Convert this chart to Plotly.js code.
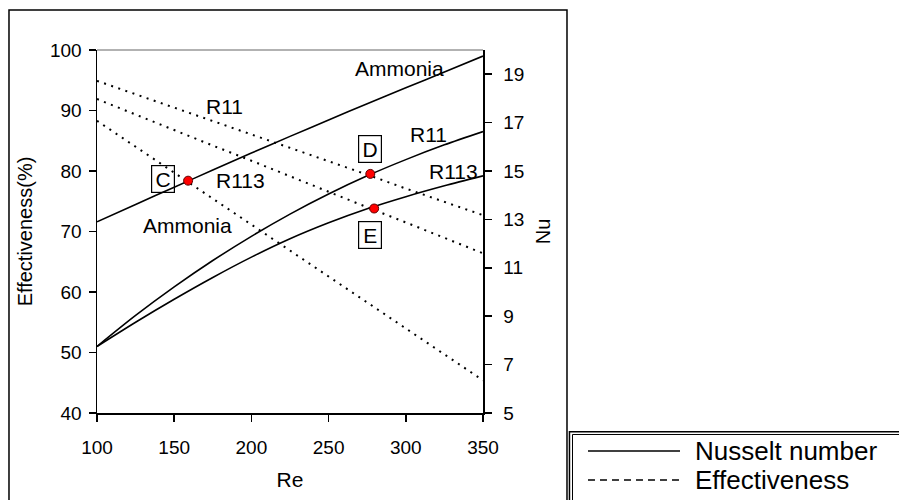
<!DOCTYPE html>
<html>
<head>
<meta charset="utf-8">
<script src="https://cdn.plot.ly/plotly-3.0.1.min.js"></script>
<style>html,body{margin:0;padding:0;background:#fff;}#chart{width:899px;height:500px;}</style>
</head>
<body>
<div id="chart"></div>
<script>
// Reynolds number samples
const re = [100, 125, 150, 175, 200, 225, 250, 275, 300, 325, 350];
// Nusselt number (right axis)
const nuAmmonia = [12.9, 13.62, 14.33, 15.04, 15.74, 16.43, 17.11, 17.78, 18.44, 19.09, 19.75];
const nuR11 = [7.75, 9.03, 10.21, 11.30, 12.30, 13.22, 14.05, 14.80, 15.47, 16.08, 16.63];
const nuR113 = [7.75, 8.75, 9.70, 10.60, 11.44, 12.20, 12.86, 13.44, 13.94, 14.39, 14.80];
// Effectiveness % (left axis)
const effR11 = [94.9, 92.7, 90.5, 88.2, 86.0, 83.8, 81.6, 79.4, 77.1, 74.9, 72.7];
const effR113 = [91.9, 89.3, 86.8, 84.2, 81.7, 79.1, 76.6, 74.0, 71.5, 68.9, 66.4];
const effAmmonia = [88.3, 84.0, 79.7, 75.4, 71.2, 66.9, 62.6, 58.3, 54.0, 49.7, 45.4];
// Operating points C, D, E (on Nu curves)
const pointNames = ["C", "D", "E"];
const pointRe = [159, 277, 279.5];
const pointNu = [14.6, 14.88, 13.45];
// Point label boxes (Re, effectiveness)
const boxRe = [142.7, 277.1, 277.1];
const boxEff = [78.7, 83.6, 69.4];
// Curve labels
const labelText = ["Ammonia", "R11", "R113", "Ammonia", "R11", "R113"];
const labelRe = [295.6, 182.3, 192.9, 158.3, 314.7, 330.6];
const labelEff = [97.0, 90.7, 78.5, 71.0, 86.0, 79.9];
// Axis ticks and titles
const xTicks = [100, 150, 200, 250, 300, 350];
const yTicks = [40, 50, 60, 70, 80, 90, 100];
const y2Ticks = [5, 7, 9, 11, 13, 15, 17, 19];
const legendLabels = ["Nusselt number", "Effectiveness"];

const FONT = "Arial, 'Liberation Sans', sans-serif";

const nuLine = {color: "black", width: 1.6, shape: "spline", smoothing: 0.8};
const effLine = {color: "black", width: 2, dash: "2px,5.5px"};

const traces = [
  {x: re, y: nuAmmonia, yaxis: "y2", mode: "lines", line: nuLine, name: "Ammonia Nu"},
  {x: re, y: nuR11, yaxis: "y2", mode: "lines", line: nuLine, name: "R11 Nu"},
  {x: re, y: nuR113, yaxis: "y2", mode: "lines", line: nuLine, name: "R113 Nu"},
  {x: re, y: effR11, yaxis: "y", mode: "lines", line: effLine, name: "R11 eff"},
  {x: re, y: effR113, yaxis: "y", mode: "lines", line: effLine, name: "R113 eff"},
  {x: re, y: effAmmonia, yaxis: "y", mode: "lines", line: effLine, name: "Ammonia eff"},
  {x: pointRe, y: pointNu, yaxis: "y2", mode: "markers", name: "points",
   marker: {color: "#ff0000", size: 9, line: {color: "#600000", width: 1}}}
];

const annotations = [];
labelText.forEach((t, i) => annotations.push({
  x: labelRe[i], y: labelEff[i], xref: "x", yref: "y", text: t, showarrow: false,
  font: {family: FONT, size: 21, color: "black"}, xanchor: "center", yanchor: "middle"
}));
pointNames.forEach((t, i) => annotations.push({
  x: boxRe[i], y: boxEff[i], xref: "x", yref: "y", text: t, showarrow: false,
  font: {family: FONT, size: 21, color: "black"}, xanchor: "center", yanchor: "middle",
  bordercolor: "black", borderwidth: 1.2, borderpad: 0, width: 22, height: 26, bgcolor: "rgba(255,255,255,0)"
}));
// legend texts
const legY = [-0.1047, -0.1846];
legendLabels.forEach((t, i) => annotations.push({
  x: 1.544, y: legY[i], xref: "paper", yref: "paper", text: t, showarrow: false,
  font: {family: FONT, size: 26, color: "black"}, xanchor: "left", yanchor: "middle"
}));

const shapes = [
  // top frame of plot area
  {type: "line", xref: "paper", yref: "paper", x0: 0, x1: 1, y0: 1, y1: 1, line: {color: "#999999", width: 1.5}},
  // outer chart border
  {type: "rect", xref: "paper", yref: "paper", x0: -0.228, x1: 1.2176, y0: -0.35, y1: 1.11, line: {color: "black", width: 1.5}},
  // legend box (double border)
  {type: "rect", xref: "paper", yref: "paper", x0: 1.224, x1: 2.5, y0: -0.35, y1: -0.0515, line: {color: "black", width: 1.5}},
  {type: "rect", xref: "paper", yref: "paper", x0: 1.2319, x1: 2.5, y0: -0.35, y1: -0.0592, line: {color: "black", width: 1}},
  // legend samples
  {type: "line", xref: "paper", yref: "paper", x0: 1.272, x1: 1.5104, y0: legY[0], y1: legY[0], line: {color: "black", width: 1.5}},
  {type: "line", xref: "paper", yref: "paper", x0: 1.272, x1: 1.5104, y0: legY[1], y1: legY[1], line: {color: "black", width: 1.3, dash: "7px,5px"}}
];

const axisCommon = {
  showgrid: false, zeroline: false, showline: true, linecolor: "black", linewidth: 1.5,
  ticks: "outside", ticklen: 7, tickwidth: 1.5, tickcolor: "black",
  tickfont: {family: FONT, size: 19, color: "black"}
};

const layout = {
  width: 899, height: 500,
  margin: {l: 97, r: 416, t: 50, b: 87},
  paper_bgcolor: "white", plot_bgcolor: "white",
  showlegend: false,
  font: {family: FONT, color: "black"},
  xaxis: Object.assign({}, axisCommon, {
    range: [100, 350], tickmode: "array", tickvals: xTicks, ticklabelstandoff: 10,
    title: {text: "Re", font: {family: FONT, size: 21, color: "black"}, standoff: 15}
  }),
  yaxis: Object.assign({}, axisCommon, {
    range: [40, 100], tickmode: "array", tickvals: yTicks, ticklabelstandoff: 3,
    title: {text: "Effectiveness(%)", font: {family: FONT, size: 20, color: "black"}, standoff: 12}
  }),
  yaxis2: Object.assign({}, axisCommon, {
    range: [5, 20], tickmode: "array", tickvals: y2Ticks, overlaying: "y", side: "right", ticklabelstandoff: 8,
    title: {text: "Nu", font: {family: FONT, size: 20, color: "black"}, standoff: 12}
  }),
  annotations: annotations,
  shapes: shapes
};

Plotly.newPlot("chart", traces, layout, {staticPlot: true, displayModeBar: false});
</script>
</body>
</html>
